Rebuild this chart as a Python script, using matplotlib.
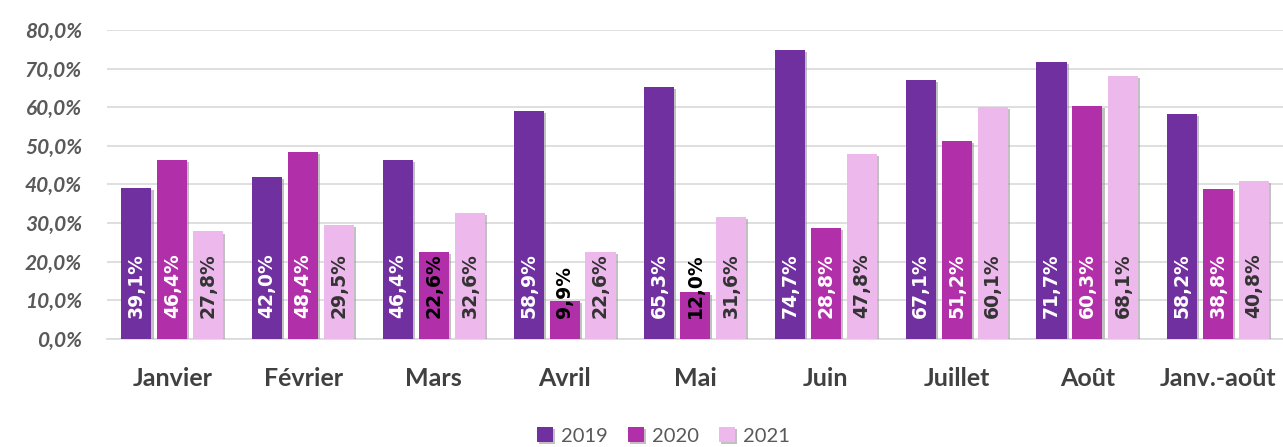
import matplotlib
matplotlib.use("Agg")
import matplotlib.pyplot as plt
import matplotlib.patheffects as pe
import numpy as np

categories = ["Janvier", "Février", "Mars", "Avril", "Mai", "Juin", "Juillet", "Août", "Janv.-août"]
series_names = ["2019", "2020", "2021"]
v2019 = [39.1, 42.0, 46.4, 58.9, 65.3, 74.7, 67.1, 71.7, 58.2]
v2020 = [46.4, 48.4, 22.6, 9.9, 12.0, 28.8, 51.2, 60.3, 38.8]
v2021 = [27.8, 29.5, 32.6, 22.6, 31.6, 47.8, 60.1, 68.1, 40.8]
yticks = [0, 10, 20, 30, 40, 50, 60, 70, 80]

colors = ["#7030A0", "#B12FA9", "#EDB8EC"]
plt.rcParams['font.family'] = ['Lato', 'DejaVu Sans']

fig = plt.figure(figsize=(12.83, 4.47), dpi=100)
ax = fig.add_axes([0.0834, 0.242, 0.917, 0.691])

x = np.arange(len(categories))
w = 0.23
step = 0.275
shadow = [pe.SimplePatchShadow(offset=(1.5, -1.5), shadow_rgbFace='#999999', alpha=0.6), pe.Normal()]
for i, (vals, name, col) in enumerate(zip([v2019, v2020, v2021], series_names, colors)):
    pos = x + (i - 1) * step
    bars = ax.bar(pos, vals, width=w, color=col, label=name, zorder=3)
    for b in bars:
        b.set_path_effects(shadow)
    for p, v in zip(pos, vals):
        if i == 2:
            tc = "#333333"
        elif i == 1 and v < 25:
            tc = "#000000"
        else:
            tc = "white"
        ax.text(p, 5.4, f"{v:.1f}%".replace(".", ","), rotation=90, ha="center", va="bottom",
                fontsize=13.5, fontweight="bold", color=tc, zorder=4, family="DejaVu Sans")

ax.set_ylim(0, 80)
ax.set_xlim(-0.5, 8.5)
ax.set_yticks(yticks)
ax.set_yticklabels([f"{t},0%" for t in yticks], fontsize=15, fontweight="bold", fontstyle="italic", color="#595959")
ax.set_xticks(x)
ax.set_xticklabels(categories, fontsize=18, fontweight="bold", color="#404040")
ax.tick_params(axis="y", length=0, pad=18)
ax.tick_params(axis="x", length=0, pad=20)
ax.grid(axis="y", color="#D9D9D9", linewidth=1.2, zorder=0)
for s in ["top", "right", "left"]:
    ax.spines[s].set_visible(False)
ax.spines["bottom"].set_color("#D9D9D9")
ax.spines["bottom"].set_linewidth(1.2)

leg = fig.legend(loc="center", bbox_to_anchor=(0.517, 0.025), ncol=3, frameon=False, fontsize=14.5,
                 handlelength=0.8, handleheight=0.8, handletextpad=0.4, columnspacing=1.0)
for t in leg.get_texts():
    t.set_color("#595959")

fig.savefig("out.png", dpi=100)
